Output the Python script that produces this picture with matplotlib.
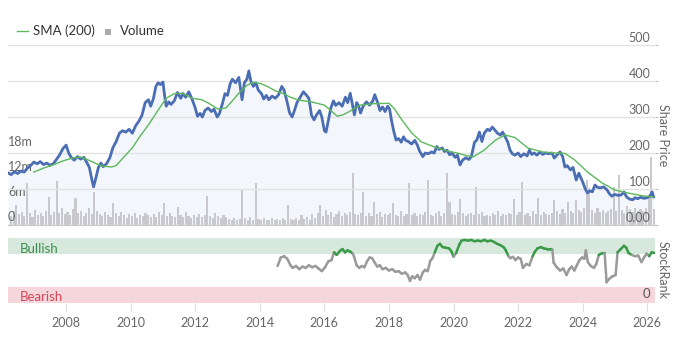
import numpy as np
import pandas as pd
import matplotlib
matplotlib.use("Agg")
import matplotlib.pyplot as plt
import matplotlib.transforms as mtransforms
from matplotlib.collections import LineCollection
from matplotlib.lines import Line2D
from matplotlib.patches import Rectangle

plt.rcParams["font.family"] = ["Lato", "DejaVu Sans"]

# share price (decimal year, pence)
price_t = [
    2006.20, 2006.30, 2006.40, 2006.50, 2006.60, 2006.70, 2006.80, 2006.90,
    2007.00, 2007.10, 2007.20, 2007.30, 2007.40, 2007.50, 2007.60, 2007.70,
    2007.80, 2007.90, 2008.00, 2008.08, 2008.15, 2008.25, 2008.35, 2008.45,
    2008.55, 2008.65, 2008.72, 2008.80, 2008.85, 2008.92, 2009.00, 2009.08,
    2009.15, 2009.25, 2009.35, 2009.45, 2009.55, 2009.65, 2009.75, 2009.85,
    2009.95, 2010.05, 2010.15, 2010.25, 2010.35, 2010.45, 2010.55, 2010.62,
    2010.70, 2010.78, 2010.85, 2010.92, 2011.00, 2011.05, 2011.10, 2011.18,
    2011.25, 2011.35, 2011.45, 2011.55, 2011.62, 2011.70, 2011.80, 2011.90,
    2012.00, 2012.07, 2012.15, 2012.22, 2012.30, 2012.40, 2012.50, 2012.58,
    2012.68, 2012.75, 2012.85, 2012.92, 2013.00, 2013.08, 2013.15, 2013.25,
    2013.35, 2013.45, 2013.52, 2013.60, 2013.66, 2013.72, 2013.80, 2013.88,
    2013.95, 2014.05, 2014.12, 2014.20, 2014.28, 2014.38, 2014.48, 2014.58,
    2014.68, 2014.75, 2014.85, 2014.92, 2015.00, 2015.08, 2015.15, 2015.25,
    2015.35, 2015.45, 2015.52, 2015.60, 2015.68, 2015.75, 2015.85, 2015.92,
    2016.00, 2016.05, 2016.12, 2016.20, 2016.28, 2016.35, 2016.45, 2016.55,
    2016.65, 2016.72, 2016.80, 2016.88, 2016.93, 2017.00, 2017.07, 2017.12,
    2017.20, 2017.30, 2017.40, 2017.50, 2017.56, 2017.65, 2017.72, 2017.80,
    2017.88, 2017.96, 2018.02, 2018.08, 2018.15, 2018.22, 2018.30, 2018.38,
    2018.45, 2018.52, 2018.60, 2018.70, 2018.80, 2018.88, 2018.95, 2019.05,
    2019.12, 2019.22, 2019.32, 2019.40, 2019.48, 2019.55, 2019.65, 2019.72,
    2019.80, 2019.88, 2019.95, 2020.05, 2020.12, 2020.20, 2020.28, 2020.38,
    2020.48, 2020.55, 2020.65, 2020.72, 2020.80, 2020.88, 2020.95, 2021.05,
    2021.12, 2021.20, 2021.28, 2021.36, 2021.45, 2021.52, 2021.60, 2021.68,
    2021.75, 2021.82, 2021.90, 2022.00, 2022.08, 2022.18, 2022.28, 2022.35,
    2022.42, 2022.50, 2022.58, 2022.68, 2022.76, 2022.85, 2022.95, 2023.05,
    2023.12, 2023.20, 2023.30, 2023.38, 2023.45, 2023.52, 2023.62, 2023.70,
    2023.80, 2023.88, 2023.95, 2024.02, 2024.08, 2024.15, 2024.22, 2024.30,
    2024.38, 2024.45, 2024.55, 2024.65, 2024.75, 2024.82, 2024.90, 2025.00,
    2025.10, 2025.20, 2025.28, 2025.36, 2025.45, 2025.55, 2025.62, 2025.70,
    2025.80, 2025.90, 2026.00, 2026.08, 2026.15, 2026.20,
]
price = [
    145, 140, 148, 143, 150, 147, 158, 165,
    175, 170, 176, 168, 172, 166, 170, 182,
    195, 212, 222, 200, 189, 180, 190, 183,
    188, 172, 160, 125, 106, 130, 160, 172,
    162, 170, 186, 215, 232, 255, 262, 258,
    266, 255, 275, 288, 305, 340, 348, 330,
    350, 385, 395, 390, 397, 360, 330, 342,
    335, 345, 368, 352, 365, 355, 370, 350,
    325, 302, 310, 300, 318, 325, 315, 322,
    300, 310, 340, 365, 360, 392, 405, 395,
    410, 348, 395, 405, 428, 400, 385, 395,
    375, 365, 350, 360, 348, 358, 352, 362,
    385, 375, 340, 312, 300, 320, 340, 355,
    370, 360, 352, 305, 292, 305, 318, 300,
    262, 258, 290, 325, 345, 332, 340, 330,
    355, 340, 366, 330, 306, 340, 328, 311,
    330, 342, 333, 345, 362, 340, 318, 328,
    315, 330, 322, 290, 260, 236, 240, 230,
    245, 235, 232, 225, 235, 222, 205, 190,
    200, 198, 203, 200, 218, 210, 214, 204,
    208, 195, 200, 188, 194, 167, 180, 187,
    182, 190, 230, 236, 258, 232, 255, 266,
    262, 272, 264, 255, 250, 258, 245, 230,
    208, 198, 194, 200, 190, 198, 192, 208,
    196, 200, 194, 203, 196, 200, 198, 200,
    186, 194, 203, 190, 161, 165, 153, 160,
    125, 144, 130, 115, 100, 89, 95, 92,
    111, 105, 103, 106, 98, 88, 80, 85,
    82, 84, 92, 78, 72, 70, 76, 73,
    77, 74, 76, 80, 92, 78,
]

# 200-day simple moving average
sma_t = [
    2007.00, 2007.30, 2007.60, 2007.90, 2008.20, 2008.45, 2008.70, 2008.90,
    2009.10, 2009.40, 2009.55, 2009.80, 2010.05, 2010.30, 2010.55, 2010.85,
    2011.10, 2011.35, 2011.60, 2011.90, 2012.20, 2012.40, 2012.70, 2012.95,
    2013.15, 2013.35, 2013.60, 2013.80, 2014.05, 2014.25, 2014.50, 2014.70,
    2014.95, 2015.20, 2015.60, 2016.00, 2016.20, 2016.40, 2016.60, 2016.75,
    2017.10, 2017.50, 2018.00, 2018.15, 2018.40, 2018.70, 2019.00, 2019.40,
    2019.80, 2020.10, 2020.35, 2020.60, 2020.95, 2021.30, 2021.60, 2021.90,
    2022.30, 2022.75, 2023.15, 2023.45, 2023.75, 2024.15, 2024.60, 2025.00,
    2025.40, 2025.85, 2026.20,
]
sma = [
    147, 158, 167, 178, 186, 189, 180, 172,
    164, 161, 165, 190, 214, 248, 278, 319,
    352, 365, 366, 352, 348, 339, 322, 325,
    345, 366, 388, 397, 392, 384, 372, 366,
    355, 347, 342, 333, 318, 302, 307, 314,
    333, 337, 338, 325, 292, 256, 231, 217,
    206, 200, 194, 189, 208, 236, 250, 243,
    214, 203, 200, 199, 181, 147, 117, 97,
    89, 81, 78,
]

# monthly volume (millions of shares), Apr 2006 - Mar 2026
volume_m = [
    2.1, 3.4, 4.8, 2.6, 3.1, 2.2, 10.2, 2.8, 1.9,
    3.6, 2.4, 3.0, 2.2, 3.3, 6.7, 2.5, 3.1, 10.5, 2.8, 4.2, 2.6,
    3.1, 2.4, 3.8, 6.6, 2.9, 3.3, 2.2, 3.0, 4.0, 2.7, 8.0, 3.4,
    2.6, 2.2, 3.1, 2.5, 1.9, 5.3, 2.8, 2.1, 3.2, 2.4, 1.8, 2.6,
    2.2, 2.9, 1.8, 2.4, 2.1, 3.0, 2.3, 1.9, 2.6, 2.0, 3.2, 2.4,
    5.3, 2.1, 2.8, 2.2, 1.9, 4.3, 2.5, 2.0, 3.1, 2.2, 1.8, 2.4,
    2.0, 2.6, 1.9, 2.3, 7.0, 2.1, 1.8, 2.9, 2.2, 1.7, 2.4, 1.9,
    1.5, 1.3, 1.8, 1.2, 1.4, 8.6, 1.6, 1.3, 1.9, 1.2, 10.0, 1.4,
    1.2, 1.6, 1.1, 1.3, 1.8, 1.2, 1.4, 1.1, 1.7, 1.3, 4.8, 1.5,
    1.3, 1.8, 1.2, 2.3, 1.4, 1.9, 1.3, 2.6, 1.7, 3.0, 4.8, 2.2,
    3.6, 2.4, 3.1, 2.0, 2.7, 3.4, 2.2, 2.9, 2.3, 3.2, 12.5, 2.6,
    2.4, 3.0, 8.0, 2.2, 2.8, 2.1, 5.5, 2.6, 3.2, 2.0, 2.7, 2.3,
    2.9, 5.3, 2.5, 2.2, 3.4, 2.1, 2.6, 10.0, 2.4, 3.0, 2.2, 2.7,
    2.3, 3.1, 10.8, 2.5, 2.1, 2.9, 3.4, 2.2, 2.8, 12.5, 5.5, 2.6,
    2.4, 3.2, 6.2, 2.8, 2.2, 2.7, 3.0, 2.3, 9.1, 2.6, 3.1, 2.2,
    2.5, 2.1, 2.9, 2.4, 3.3, 2.2, 2.7, 2.3, 3.0, 2.6, 6.2, 2.4,
    3.1, 10.3, 2.5, 2.9, 2.2, 3.4, 2.7, 6.5, 2.4, 3.2, 2.6, 2.3,
    2.9, 6.0, 3.3, 2.6, 3.8, 2.8, 5.5, 3.4, 3.0, 6.0, 3.6, 3.1,
    4.0, 10.8, 8.9, 3.5, 3.0, 4.0, 3.2, 3.7, 2.9, 3.4, 3.8, 9.1,
    3.3, 12.0, 3.6, 3.0, 4.5, 3.8, 3.1, 4.2, 3.4, 3.9, 3.3, 4.1,
    7.2, 16.3, 3.8,
]
months = pd.date_range("2006-04-01", periods=len(volume_m), freq="MS")
volume_t = months.year + (months.month - 0.5) / 12

# StockRank history
rank_t = [
    2014.55, 2014.65, 2014.75, 2014.85, 2014.95, 2015.02, 2015.12, 2015.22,
    2015.32, 2015.42, 2015.52, 2015.62, 2015.72, 2015.82, 2015.92, 2016.02,
    2016.12, 2016.22, 2016.30, 2016.38, 2016.48, 2016.56, 2016.64, 2016.72,
    2016.80, 2016.88, 2016.92, 2017.00, 2017.08, 2017.16, 2017.24, 2017.32,
    2017.40, 2017.48, 2017.56, 2017.64, 2017.72, 2017.80, 2017.90, 2018.00,
    2018.10, 2018.20, 2018.30, 2018.40, 2018.50, 2018.58, 2018.65, 2018.72,
    2018.80, 2018.88, 2018.96, 2019.05, 2019.12, 2019.20, 2019.28, 2019.35,
    2019.42, 2019.50, 2019.58, 2019.66, 2019.76, 2019.86, 2019.94, 2020.00,
    2020.08, 2020.18, 2020.25, 2020.35, 2020.45, 2020.55, 2020.65, 2020.75,
    2020.85, 2020.95, 2021.05, 2021.15, 2021.25, 2021.35, 2021.45, 2021.55,
    2021.62, 2021.70, 2021.76, 2021.84, 2021.92, 2022.00, 2022.08, 2022.15,
    2022.25, 2022.35, 2022.45, 2022.52, 2022.60, 2022.70, 2022.80, 2022.90,
    2023.00, 2023.06, 2023.10, 2023.20, 2023.30, 2023.40, 2023.50, 2023.58,
    2023.66, 2023.74, 2023.82, 2023.90, 2023.98, 2024.05, 2024.10, 2024.16,
    2024.25, 2024.35, 2024.42, 2024.50, 2024.58, 2024.68, 2024.74, 2024.82,
    2024.92, 2025.02, 2025.08, 2025.18, 2025.28, 2025.35, 2025.42, 2025.52,
    2025.62, 2025.72, 2025.82, 2025.90, 2025.98, 2026.06, 2026.14, 2026.22,
]
rank = [
    57, 70, 72, 68, 58, 54, 57, 52,
    56, 54, 58, 55, 57, 53, 49, 55,
    64, 66, 78, 74, 80, 83, 78, 81,
    79, 76, 71, 58, 54, 57, 55, 64,
    70, 69, 62, 56, 58, 52, 54, 50,
    52, 48, 49, 45, 47, 43, 34, 41,
    38, 43, 36, 47, 51, 49, 65, 69,
    78, 88, 91, 86, 85, 84, 79, 71,
    77, 90, 96, 97, 96, 97, 95, 96,
    95, 97, 95, 96, 94, 91, 89, 86,
    81, 72, 69, 71, 66, 70, 68, 54,
    60, 58, 72, 79, 84, 86, 84, 83,
    83, 82, 62, 55, 50, 53, 43, 52,
    56, 50, 58, 66, 70, 68, 81, 63,
    57, 54, 60, 74, 76, 77, 32, 37,
    41, 43, 78, 83, 88, 85, 77, 74,
    72, 73, 63, 70, 76, 72, 78, 77,
]

years = list(range(2008, 2027, 2))

W, H = 677, 338
fig = plt.figure(figsize=(W / 100, H / 100), dpi=100)

x0, x1 = 8 / W, 655 / W
top_rect = [x0, 1 - 225 / H, x1 - x0, 180 / H]
low_rect = [x0, 1 - 303 / H, x1 - x0, 65 / H]

# volume sits underneath, price on a twin axis drawn above it
ax_v = fig.add_axes(top_rect)
ax_p = ax_v.twinx()
ax_p.set_zorder(ax_v.get_zorder() + 1)
ax_p.patch.set_visible(False)

ax_v.set_xlim(2006.2, 2026.24)
ax_v.set_ylim(0, 43.2)
ax_p.set_ylim(0, 500)

ax_v.fill_between(price_t, price, 0, transform=ax_p.transData,
                  color="#f3f6fb", lw=0, zorder=0)
ax_v.bar(volume_t, volume_m, width=0.065, color="#c8c8cd", lw=0, zorder=1)

ax_p.set_yticks(range(0, 501, 100))
ax_p.grid(axis="y", color="#e3e3e3", lw=1)
ax_p.tick_params(axis="y", right=True, length=2, color="#bbbbbb",
                 labelright=False)
ax_p.plot(price_t, price, color="#4a6db3", lw=2.0, zorder=3,
          solid_joinstyle="round")
ax_p.plot(sma_t, sma, color="#5cb85c", lw=1.0, zorder=4)

for a in (ax_v, ax_p):
    for s in ("top", "left", "right"):
        a.spines[s].set_visible(False)
    a.tick_params(axis="x", bottom=False, labelbottom=False)
ax_v.spines["bottom"].set_color("#c8c8c8")
ax_p.spines["bottom"].set_visible(False)
ax_v.set_yticks([])

lab = dict(color="#666666", fontsize=9)
trans_p = mtransforms.blended_transform_factory(ax_p.transAxes, ax_p.transData)
for v in range(100, 501, 100):
    ax_p.text(0.993, v + 3, str(v), transform=trans_p, ha="right",
              va="bottom", **lab)
ax_p.text(0.993, 3, "0.00", transform=trans_p, ha="right", va="bottom", **lab)

trans_v = mtransforms.blended_transform_factory(ax_v.transAxes, ax_v.transData)
for v in (0, 6, 12, 18):
    ax_v.text(0.0, v + 0.4, "0" if v == 0 else f"{v}m", transform=trans_v,
              ha="left", va="bottom", zorder=6, **lab)

# StockRank panel
ax_r = fig.add_axes(low_rect)
ax_r.set_xlim(2006.2, 2026.24)
ax_r.set_ylim(0, 100)
ax_r.axhspan(75, 100, color="#d6e9dc", lw=0)
ax_r.axhspan(0, 25, color="#f5d6db", lw=0)
ax_r.text(2006.55, 76.5, "Bullish", color="#3d8f4e", fontsize=9.5,
          va="baseline")
ax_r.text(2006.55, 3, "Bearish", color="#d2475b", fontsize=9.5,
          va="baseline")
ax_r.text(0.993, 4, "0", transform=ax_r.get_yaxis_transform(),
          ha="right", va="bottom", color="#555555", fontsize=9.5)

pts = np.column_stack([rank_t, rank])
segs = np.stack([pts[:-1], pts[1:]], axis=1)
mid = (np.array(rank[:-1]) + np.array(rank[1:])) / 2
seg_colors = ["#3a9a48" if m >= 75 else "#9a9a9a" for m in mid]
ax_r.add_collection(LineCollection(segs, colors=seg_colors, lw=1.8,
                                   capstyle="round", joinstyle="round"))

for s in ax_r.spines.values():
    s.set_visible(False)
ax_r.set_yticks([])
ax_r.set_xticks(years)
ax_r.set_xticklabels([str(y) for y in years])
ax_r.tick_params(axis="x", length=6, color="#dddddd", pad=4,
                 labelcolor="#666666", labelsize=9)

# side captions
fig.text(663 / W, 1 - 135 / H, "Share Price", rotation=270, ha="center",
         va="center", color="#666666", fontsize=9)
fig.text(663 / W, 1 - 270 / H, "StockRank", rotation=270, ha="center",
         va="center", color="#666666", fontsize=9)

# legend row
ly = 1 - 31 / H
fig.add_artist(Line2D([17 / W, 28 / W], [ly, ly], color="#5cb85c", lw=1.0))
fig.text(33 / W, ly, "SMA (200)", va="center", color="#333333", fontsize=9.5)
fig.add_artist(Rectangle((105 / W, ly - 3.5 / H), 6 / W, 6 / H,
                         color="#aaaaaa", lw=0))
fig.text(120 / W, ly, "Volume", va="center", color="#333333", fontsize=9.5)

fig.savefig("out.png", dpi=100)
